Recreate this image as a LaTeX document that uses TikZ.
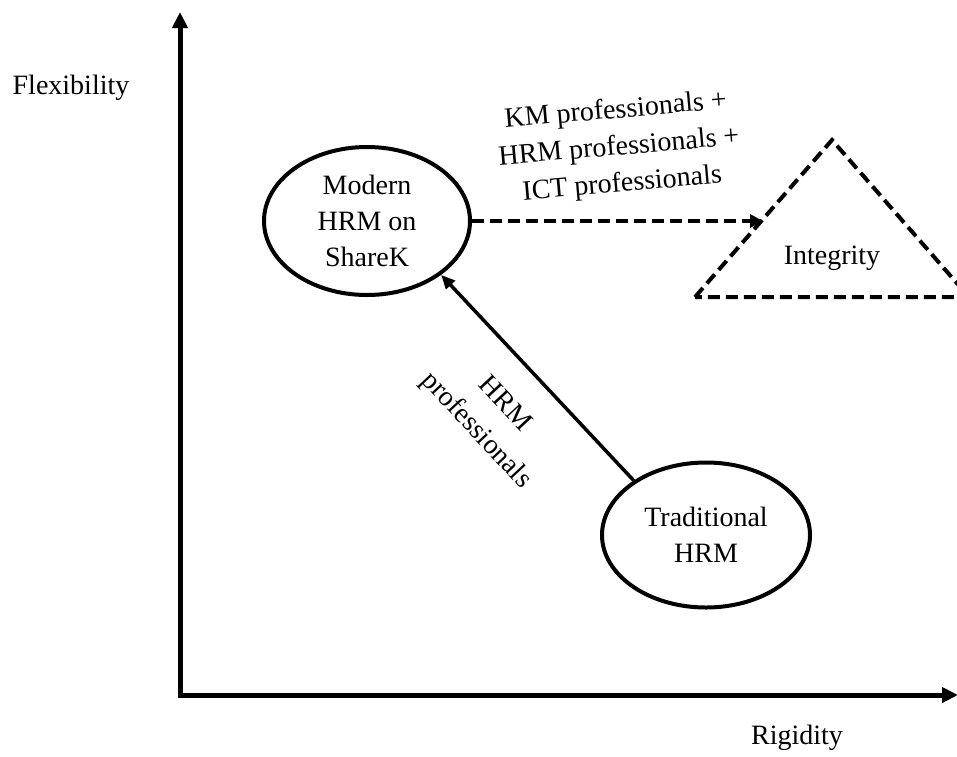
\documentclass[tikz,border=0pt]{standalone}
\usepackage{fontspec}
\setmainfont{Liberation Serif}
\usetikzlibrary{arrows.meta,shapes.geometric}
\begin{document}
\begin{tikzpicture}[x=1pt,y=-1pt,
  txt/.style={font=\fontsize{28}{36}\selectfont, align=center, inner sep=0pt},
  oval/.style={ellipse, draw, line width=4pt, inner sep=0pt, txt},
  axis/.style={line width=5pt, -{Triangle[length=16pt,width=15pt]}},
  dasharrow/.style={line width=4pt, dash pattern=on 12pt off 6pt, -{Triangle[length=13pt,width=13pt]}},
  solidarrow/.style={line width=3.5pt, -{Triangle[length=14pt,width=12pt]}},
  dashedge/.style={line width=4pt, dash pattern=on 12pt off 6pt}
]
\useasboundingbox (0,0) rectangle (957,756);
\clip (0,0) rectangle (957,756);
% axes
\coordinate (O) at (180,695);
\coordinate (ytop) at (180,12);
\coordinate (xend) at (958,695);
\draw[axis] (180,697.5) -- (ytop);
\draw[axis] (177.5,695) -- (xend);
\node[txt] (flex) at (71,88) {Flexibility};
\node[txt] (rig) at (797,738) {Rigidity};
% nodes
\node[oval, minimum width=206pt, minimum height=148pt] (modern) at (367,221) {Modern\\HRM on\\ShareK};
\node[oval, minimum width=208pt, minimum height=145pt] (trad) at (706,535) {Traditional\\HRM};
% triangle
\coordinate (apex) at (832,140);
\coordinate (bl) at (695,297);
\coordinate (br) at (969,297);
\draw[dashedge, line join=miter] (bl) -- (apex) -- (br) -- cycle;
\node[txt] (integ) at (832,258) {Integrity};
\coordinate (hit) at (763,221);
% connectors
\draw[dasharrow] (modern.east) -- (hit);
\draw[solidarrow] (trad.143) -- (modern.324);
% labels
\node[txt, rotate=5, font=\fontsize{28}{37}\selectfont] (lab1) at (619,148) {KM professionals +\\HRM professionals +\\ICT professionals};
\node[txt, rotate=-47, font=\fontsize{28}{39}\selectfont] (lab2) at (490,418) {HRM\\professionals};
\end{tikzpicture}
\end{document}
